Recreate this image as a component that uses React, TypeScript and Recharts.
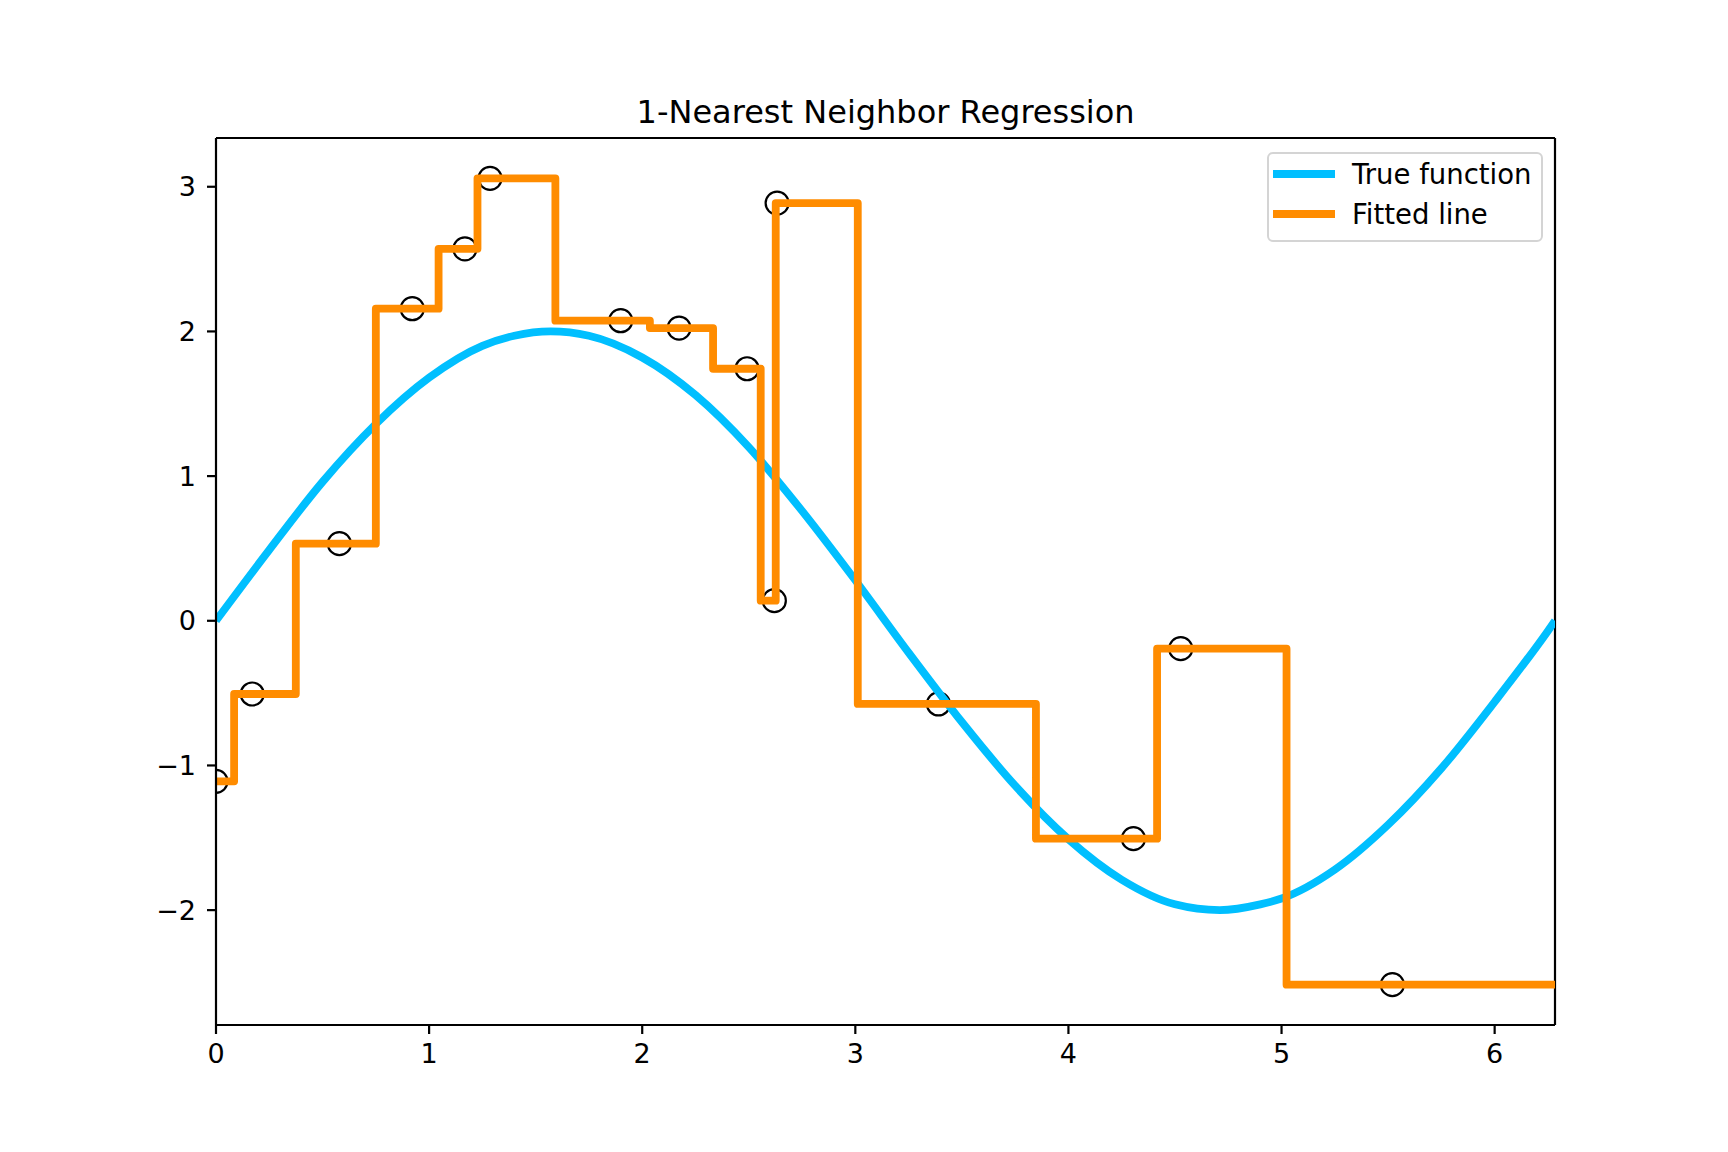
import { ComposedChart, Legend, Line, ReferenceLine, Scatter, XAxis, YAxis } from 'recharts';

const X_MIN = 0;
const X_MAX = 6.2832;
const Y_MIN = -2.794;
const Y_MAX = 3.337;

// training samples (circles)
const sampleX = [0.0, 0.17, 0.579, 0.921, 1.168, 1.286, 1.899, 2.173, 2.492, 2.62, 2.633, 3.39, 4.305, 4.527, 5.52];
const sampleY = [-1.11, -0.506, 0.533, 2.157, 2.571, 3.058, 2.074, 2.023, 1.742, 0.139, 2.887, -0.575, -1.506, -0.193, -2.515];

// true function
const trueX = [0, 0.25, 0.5, 0.75, 1.0, 1.25, 1.4, 1.57, 1.75, 2.0, 2.25, 2.5, 2.75, 3.0, 3.25, 3.5, 3.75, 4.0, 4.25, 4.5, 4.71, 4.9, 5.0, 5.25, 5.5, 5.75, 6.0, 6.25, 6.2832];
const trueY = [0, 0.49, 0.96, 1.36, 1.68, 1.9, 1.97, 2.0, 1.97, 1.82, 1.56, 1.2, 0.76, 0.28, -0.22, -0.7, -1.14, -1.51, -1.79, -1.96, -2.0, -1.96, -1.92, -1.72, -1.41, -1.02, -0.56, -0.07, 0];

const xTicks = [0, 1, 2, 3, 4, 5, 6];
const yTicks = [-2, -1, 0, 1, 2, 3];
const legendOrder = ['True function', 'Fitted line'];

const samples = sampleX.map((x, i) => ({ x, y: sampleY[i] }));
const trueData = trueX.map((x, i) => ({ x, y: trueY[i] }));
// 1-NN prediction: a step that switches halfway between neighbouring samples
const fitted = [...samples, { x: X_MAX, y: sampleY[sampleY.length - 1] }];

const FONT = '"DejaVu Sans", sans-serif';
const fmt = (v: number) => String(v).replace('-', '\u2212');

const axisStyle = { stroke: '#000', strokeWidth: 2.2 };
const tickStyle = { fill: '#000', fontSize: 27, fontFamily: FONT };

const Ring = (props: any) => {
  const { cx, cy } = props;
  if (cx == null || cy == null) return null;
  return <circle cx={cx} cy={cy} r={11.5} fill="none" stroke="#000" strokeWidth={2.2} />;
};

const LegendBox = ({ payload }: any) => {
  const items = (payload || [])
    .filter((p: any) => legendOrder.includes(p.value))
    .sort((a: any, b: any) => legendOrder.indexOf(a.value) - legendOrder.indexOf(b.value));
  return (
    <div
      style={{
        border: '2px solid #d4d4d4',
        borderRadius: 6,
        background: 'rgba(255,255,255,0.8)',
        padding: '0 4px',
        fontFamily: FONT,
        fontSize: 27.5,
        color: '#000',
        boxSizing: 'border-box',
        width: 276,
        height: 90,
        whiteSpace: 'nowrap',
      }}
    >
      {items.map((p: any) => (
        <div key={p.value} style={{ display: 'flex', alignItems: 'center', height: 40 }}>
          <span style={{ display: 'inline-block', flex: 'none', width: 62, height: 7.8, background: p.color, marginRight: 17 }} />
          <span style={{ lineHeight: '40px' }}>{p.value}</span>
        </div>
      ))}
    </div>
  );
};

export default function App() {
  return (
    <div style={{ position: 'relative', width: 1728, height: 1152, background: '#fff', fontFamily: FONT }}>
      <style>{'body{margin:0}'}</style>
      <ComposedChart width={1728} height={1152} margin={{ top: 138, right: 173, left: 136, bottom: 67 }}>
        <XAxis
          dataKey="x"
          type="number"
          domain={[X_MIN, X_MAX]}
          ticks={xTicks}
          tickFormatter={fmt}
          allowDataOverflow
          height={60}
          tickSize={9}
          tickMargin={10}
          axisLine={axisStyle}
          tickLine={axisStyle}
          tick={tickStyle}
        />
        <YAxis
          type="number"
          domain={[Y_MIN, Y_MAX]}
          ticks={yTicks}
          tickFormatter={fmt}
          allowDataOverflow
          width={80}
          tickSize={9}
          tickMargin={11}
          axisLine={axisStyle}
          tickLine={axisStyle}
          tick={tickStyle}
        />
        <ReferenceLine y={Y_MAX} stroke="#000" strokeWidth={2.2} />
        <ReferenceLine x={X_MAX} stroke="#000" strokeWidth={2.2} />
        <Scatter data={samples} dataKey="y" shape={Ring} legendType="none" zIndex={300} isAnimationActive={false} />
        <Line
          data={trueData}
          dataKey="y"
          name="True function"
          type="monotone"
          stroke="#00BFFF"
          strokeWidth={7.8}
          strokeLinejoin="round"
          dot={false}
          activeDot={false}
          isAnimationActive={false}
        />
        <Line
          data={fitted}
          dataKey="y"
          name="Fitted line"
          type="step"
          stroke="#FF8C00"
          strokeWidth={7.8}
          strokeLinejoin="round"
          strokeLinecap="square"
          dot={false}
          activeDot={false}
          isAnimationActive={false}
        />
        <Legend
          content={LegendBox}
          layout="horizontal"
          align="center"
          verticalAlign="middle"
          wrapperStyle={{ position: 'absolute', left: 1267, top: 152, width: 276, height: 90 }}
        />
      </ComposedChart>
      <svg width={1728} height={1152} style={{ position: 'absolute', left: 0, top: 0, pointerEvents: 'none' }}>
        <text x={885.6} y={123} textAnchor="middle" fontFamily={FONT} fontSize={32} fill="#000">
          1-Nearest Neighbor Regression
        </text>
      </svg>
    </div>
  );
}
